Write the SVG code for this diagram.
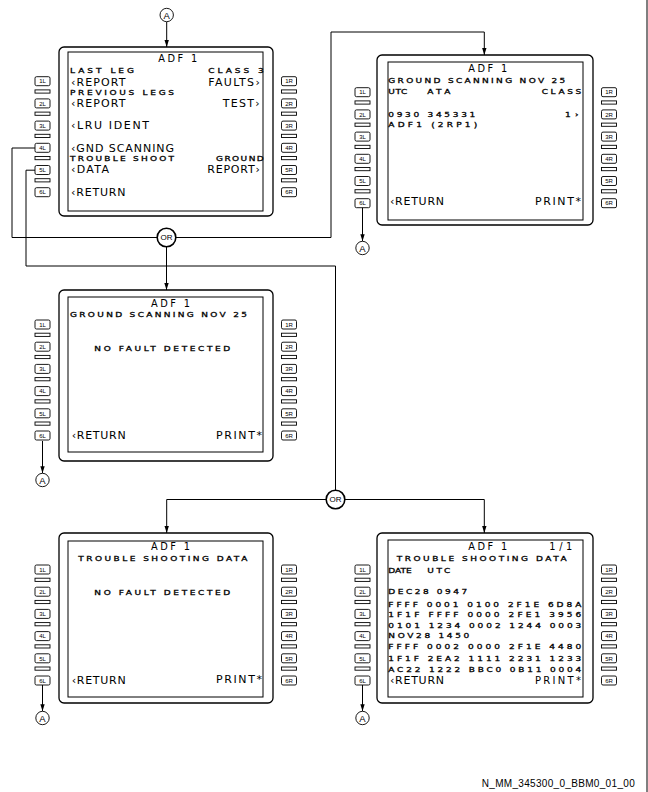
<svg xmlns="http://www.w3.org/2000/svg" xmlns:xlink="http://www.w3.org/1999/xlink" width="648" height="792" viewBox="0 0 648 792">
<style>
text{font-family:"DejaVu Sans","Liberation Sans",sans-serif;fill:#000}
.L{font-size:11px}
.P{font-size:10px}
.S{font-size:7.2px;stroke:#000;stroke-width:0.3}
.T{font-size:9.8px}
.kl text{font-family:"Liberation Sans",sans-serif;font-size:6px;text-anchor:middle}
.outer{fill:none;stroke:#000;stroke-width:1.3}
.inner{fill:none;stroke:#000;stroke-width:1}
.k{fill:#fff;stroke:#000;stroke-width:0.9}
.b{fill:#fff;stroke:#000;stroke-width:0.9}
.c{fill:none;stroke:#000;stroke-width:1}
.ar{marker-end:url(#ah)}
.orc{fill:#fff;stroke:#000;stroke-width:1.6}
.ac{fill:#fff;stroke:#000;stroke-width:0.9}
.ort{font-family:"Liberation Sans",sans-serif;font-size:8px;text-anchor:middle}
.at{font-family:"Liberation Sans",sans-serif;font-size:9.5px;text-anchor:middle}
.ft{font-family:"Liberation Sans",sans-serif;font-size:10px}
</style>
<defs>
<marker id="ah" markerUnits="userSpaceOnUse" markerWidth="8" markerHeight="6" refX="7" refY="2.2" orient="auto">
<path d="M0,0 L7,2.2 L0,4.4 z" fill="#000"/>
</marker>
<g id="kc">
<rect class="k" x="0" y="0" width="15" height="9" rx="1.5"/>
<rect class="b" x="0" y="13.2" width="15" height="3.2"/>
<rect class="k" x="0" y="22.2" width="15" height="9" rx="1.5"/>
<rect class="b" x="0" y="35.4" width="15" height="3.2"/>
<rect class="k" x="0" y="44.4" width="15" height="9" rx="1.5"/>
<rect class="b" x="0" y="57.6" width="15" height="3.2"/>
<rect class="k" x="0" y="66.6" width="15" height="9" rx="1.5"/>
<rect class="b" x="0" y="79.8" width="15" height="3.2"/>
<rect class="k" x="0" y="88.8" width="15" height="9" rx="1.5"/>
<rect class="b" x="0" y="102" width="15" height="3.2"/>
<rect class="k" x="0" y="111" width="15" height="9" rx="1.5"/>
</g>
</defs>

<line x1="647" y1="0" x2="647" y2="792" stroke="#000" stroke-width="1"/>

<g id="connectors">
<line class="c ar" x1="166.7" y1="22" x2="166.7" y2="47"/>
<polyline class="c" points="35,148 12,148 12,237.5 157,237.5"/>
<polyline class="c ar" points="176,237.5 331,237.5 331,32 484.3,32 484.3,55"/>
<line class="c ar" x1="166.5" y1="247" x2="166.5" y2="290"/>
<polyline class="c" points="35,170.2 26,170.2 26,266 335.5,266 335.5,490"/>
<polyline class="c ar" points="326,499.5 166.7,499.5 166.7,533"/>
<polyline class="c ar" points="345,499.5 484.3,499.5 484.3,533"/>
<line class="c ar" x1="362.5" y1="206.5" x2="362.5" y2="241.3"/>
<line class="c ar" x1="42.5" y1="441" x2="42.5" y2="473.3"/>
<line class="c ar" x1="42.5" y1="685" x2="42.5" y2="711.3"/>
<line class="c ar" x1="362.5" y1="685" x2="362.5" y2="711.3"/>
</g>

<g id="ref-a-top"><circle class="ac" cx="166.7" cy="15" r="6.7"/><text class="at" x="166.7" y="18.5">A</text></g>
<g id="ref-a-2"><circle class="ac" cx="362.5" cy="248" r="6.7"/><text class="at" x="362.5" y="251.5">A</text></g>
<g id="ref-a-3"><circle class="ac" cx="42.5" cy="480" r="6.7"/><text class="at" x="42.5" y="483.5">A</text></g>
<g id="ref-a-4"><circle class="ac" cx="42.5" cy="718" r="6.7"/><text class="at" x="42.5" y="721.5">A</text></g>
<g id="ref-a-5"><circle class="ac" cx="362.5" cy="718" r="6.7"/><text class="at" x="362.5" y="721.5">A</text></g>

<g id="or-1"><circle class="orc" cx="166.5" cy="237.5" r="9.3"/><text class="ort" x="166.5" y="240.4">OR</text></g>
<g id="or-2"><circle class="orc" cx="335.5" cy="499.5" r="9.3"/><text class="ort" x="335.5" y="502.4">OR</text></g>

<g id="screen-menu">
<rect class="outer" x="59" y="47" width="214" height="169" rx="5"/>
<rect class="inner" x="68" y="52" width="195" height="159"/>
<use xlink:href="#kc" x="35" y="76.7"/>
<use xlink:href="#kc" x="281.5" y="76.7"/>
<g class="kl" transform="translate(42.5,76.7)"><text y="6.8">1L</text><text y="29">2L</text><text y="51.2">3L</text><text y="73.4">4L</text><text y="95.6">5L</text><text y="117.8">6L</text></g>
<g class="kl" transform="translate(289,76.7)"><text y="6.8">1R</text><text y="29">2R</text><text y="51.2">3R</text><text y="73.4">4R</text><text y="95.6">5R</text><text y="117.8">6R</text></g>
<text class="T" x="158.3" y="61.7" textLength="39">ADF 1</text>
<text class="S" transform="translate(70,73.3) scale(1.25,1)" textLength="51.2">LAST LEG</text>
<text class="S" transform="translate(208.3,73.3) scale(1.25,1)" textLength="44.4">CLASS 3</text>
<text class="L" x="71" y="85.7" textLength="54.5">‹REPORT</text>
<text class="L" x="208.3" y="85.7" textLength="51.5">FAULTS›</text>
<text class="S" transform="translate(70,95) scale(1.25,1)" textLength="83.2">PREVIOUS LEGS</text>
<text class="L" x="71" y="107.3" textLength="54.5">‹REPORT</text>
<text class="L" x="222.7" y="107.3" textLength="37">TEST›</text>
<text class="L" x="71" y="129.3" textLength="78">‹LRU IDENT</text>
<text class="L" x="71" y="151.7" textLength="103">‹GND SCANNING</text>
<text class="S" transform="translate(70,160.7) scale(1.25,1)" textLength="83.2">TROUBLE SHOOT</text>
<text class="S" transform="translate(216,160.7) scale(1.25,1)" textLength="38.2">GROUND</text>
<text class="L" x="71" y="173.3" textLength="38">‹DATA</text>
<text class="L" x="207.3" y="173.3" textLength="52.5">REPORT›</text>
<text class="L" x="71" y="195.7" textLength="54.5">‹RETURN</text>
</g>

<g id="screen-ground-scan-fault">
<rect class="outer" x="377" y="55" width="216" height="170" rx="5"/>
<rect class="inner" x="388" y="62" width="195" height="158"/>
<use xlink:href="#kc" x="355" y="87.7"/>
<use xlink:href="#kc" x="601.5" y="87.7"/>
<g class="kl" transform="translate(362.5,87.7)"><text y="6.8">1L</text><text y="29">2L</text><text y="51.2">3L</text><text y="73.4">4L</text><text y="95.6">5L</text><text y="117.8">6L</text></g>
<g class="kl" transform="translate(609,87.7)"><text y="6.8">1R</text><text y="29">2R</text><text y="51.2">3R</text><text y="73.4">4R</text><text y="95.6">5R</text><text y="117.8">6R</text></g>
<text class="T" x="468.3" y="71.7" textLength="39">ADF 1</text>
<text class="S" transform="translate(388.3,83.3) scale(1.25,1)" textLength="141.6">GROUND SCANNING NOV 25</text>
<text class="S" transform="translate(388.3,94) scale(1.25,1)" textLength="15.2">UTC</text>
<text class="S" transform="translate(427.3,94) scale(1.25,1)" textLength="18.4">ATA</text>
<text class="S" transform="translate(541.7,94) scale(1.25,1)" textLength="31.6">CLASS</text>
<text class="S" transform="translate(388.3,117) scale(1.25,1)" textLength="69.6">0930 345331</text>
<text class="S" transform="translate(565,117) scale(1.25,1)" textLength="10.8">1›</text>
<text class="S" transform="translate(388.3,127.3) scale(1.25,1)" textLength="71.2">ADF1 (2RP1)</text>
<text class="L" x="390" y="205" textLength="54">‹RETURN</text>
<text class="L" x="535" y="205" textLength="46">PRINT*</text>
</g>

<g id="screen-ground-scan-nofault">
<rect class="outer" x="59" y="290" width="214" height="171" rx="5"/>
<rect class="inner" x="68" y="297" width="195" height="155"/>
<use xlink:href="#kc" x="35" y="320"/>
<use xlink:href="#kc" x="281.5" y="320"/>
<g class="kl" transform="translate(42.5,320)"><text y="6.8">1L</text><text y="29">2L</text><text y="51.2">3L</text><text y="73.4">4L</text><text y="95.6">5L</text><text y="117.8">6L</text></g>
<g class="kl" transform="translate(289,320)"><text y="6.8">1R</text><text y="29">2R</text><text y="51.2">3R</text><text y="73.4">4R</text><text y="95.6">5R</text><text y="117.8">6R</text></g>
<text class="T" x="151" y="306.7" textLength="39">ADF 1</text>
<text class="S" transform="translate(70,316.7) scale(1.25,1)" textLength="141.6">GROUND SCANNING NOV 25</text>
<text class="S" transform="translate(94.3,351) scale(1.25,1)" textLength="108.8">NO FAULT DETECTED</text>
<text class="L" x="71.7" y="439" textLength="54">‹RETURN</text>
<text class="L" x="216" y="439" textLength="46">PRINT*</text>
</g>

<g id="screen-trouble-nofault">
<rect class="outer" x="59" y="533" width="214" height="170" rx="5"/>
<rect class="inner" x="68" y="541" width="195" height="156"/>
<use xlink:href="#kc" x="35" y="565"/>
<use xlink:href="#kc" x="281.5" y="565"/>
<g class="kl" transform="translate(42.5,565)"><text y="6.8">1L</text><text y="29">2L</text><text y="51.2">3L</text><text y="73.4">4L</text><text y="95.6">5L</text><text y="117.8">6L</text></g>
<g class="kl" transform="translate(289,565)"><text y="6.8">1R</text><text y="29">2R</text><text y="51.2">3R</text><text y="73.4">4R</text><text y="95.6">5R</text><text y="117.8">6R</text></g>
<text class="T" x="151" y="550" textLength="39">ADF 1</text>
<text class="S" transform="translate(78.3,560.7) scale(1.25,1)" textLength="135.2">TROUBLE SHOOTING DATA</text>
<text class="S" transform="translate(94.3,595) scale(1.25,1)" textLength="108.8">NO FAULT DETECTED</text>
<text class="L" x="71.7" y="684" textLength="54">‹RETURN</text>
<text class="L" x="216" y="683.3" textLength="46">PRINT*</text>
</g>

<g id="screen-trouble-data">
<rect class="outer" x="377" y="533" width="216" height="170" rx="5"/>
<rect class="inner" x="388" y="540" width="195" height="157"/>
<use xlink:href="#kc" x="355" y="565"/>
<use xlink:href="#kc" x="601.5" y="565"/>
<g class="kl" transform="translate(362.5,565)"><text y="6.8">1L</text><text y="29">2L</text><text y="51.2">3L</text><text y="73.4">4L</text><text y="95.6">5L</text><text y="117.8">6L</text></g>
<g class="kl" transform="translate(609,565)"><text y="6.8">1R</text><text y="29">2R</text><text y="51.2">3R</text><text y="73.4">4R</text><text y="95.6">5R</text><text y="117.8">6R</text></g>
<text class="T" x="468.3" y="550" textLength="39">ADF 1</text>
<text class="T" x="549.3" y="550" textLength="23">1/1</text>
<text class="S" transform="translate(396.7,560.7) scale(1.25,1)" textLength="136">TROUBLE SHOOTING DATA</text>
<text class="S" transform="translate(388.3,572.7) scale(1.25,1)" textLength="18.8">DATE</text>
<text class="S" transform="translate(427.3,572.7) scale(1.25,1)" textLength="18.4">UTC</text>
<text class="S" transform="translate(388.3,594) scale(1.25,1)" textLength="63.2">DEC28 0947</text>
<text class="S" transform="translate(388.3,607) scale(1.25,1)" textLength="154.4">FFFF 0001 0100 2F1E 6D8A</text>
<text class="S" transform="translate(388.3,617.3) scale(1.25,1)" textLength="154.4">1F1F FFFF 0000 2FE1 3956</text>
<text class="S" transform="translate(388.3,627.7) scale(1.25,1)" textLength="154.4">0101 1234 0002 1244 0003</text>
<text class="S" transform="translate(388.3,637.7) scale(1.25,1)" textLength="64.8">NOV28 1450</text>
<text class="S" transform="translate(388.3,649.3) scale(1.25,1)" textLength="154.4">FFFF 0002 0000 2F1E 4480</text>
<text class="S" transform="translate(388.3,661.3) scale(1.25,1)" textLength="154.4">1F1F 2EA2 1111 2231 1233</text>
<text class="S" transform="translate(388.3,672) scale(1.25,1)" textLength="154.4">AC22 1222 BBC0 0B11 0004</text>
<text class="L" x="390" y="684" textLength="54">‹RETURN</text>
<text class="P" x="535" y="684.2" textLength="46">PRINT*</text>
</g>

<text class="ft" x="481.7" y="787" textLength="153">N_MM_345300_0_BBM0_01_00</text>
</svg>
